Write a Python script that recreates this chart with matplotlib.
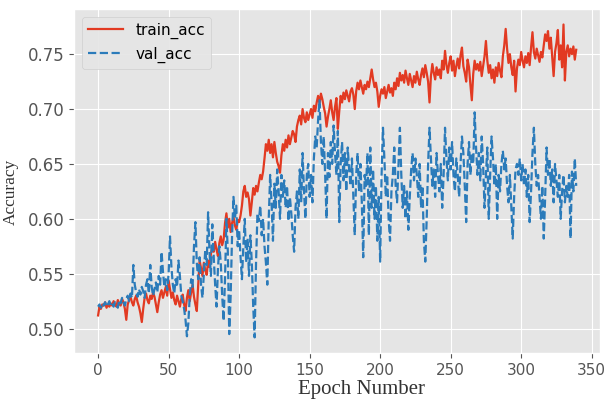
import numpy as np
import matplotlib
matplotlib.use("Agg")
import matplotlib.pyplot as plt

# per-epoch accuracy
train_acc = [
    0.512, 0.520, 0.518, 0.522, 0.521, 0.524, 0.519, 0.522, 0.520, 0.523,
    0.521, 0.525, 0.522, 0.520, 0.526, 0.523, 0.521, 0.527, 0.524, 0.518,
    0.508, 0.522, 0.526, 0.529, 0.524, 0.521, 0.527, 0.530, 0.524, 0.520,
    0.514, 0.506, 0.518, 0.528, 0.532, 0.526, 0.523, 0.530, 0.527, 0.533,
    0.529, 0.522, 0.515, 0.524, 0.531, 0.535, 0.528, 0.533, 0.538, 0.530,
    0.544, 0.536, 0.528, 0.533, 0.526, 0.522, 0.530, 0.525, 0.520, 0.527,
    0.531, 0.522, 0.516, 0.528, 0.535, 0.525, 0.533, 0.540, 0.529, 0.522,
    0.516, 0.540, 0.562, 0.555, 0.548, 0.560, 0.553, 0.549, 0.562, 0.556,
    0.568, 0.575, 0.570, 0.579, 0.572, 0.566, 0.578, 0.584, 0.576, 0.581,
    0.596, 0.605, 0.592, 0.600, 0.588, 0.596, 0.602, 0.594, 0.590, 0.599,
    0.597, 0.603, 0.612, 0.625, 0.630, 0.620, 0.624, 0.618, 0.603, 0.615,
    0.628, 0.622, 0.630, 0.625, 0.633, 0.640, 0.636, 0.643, 0.655, 0.668,
    0.662, 0.672, 0.660, 0.668, 0.656, 0.670, 0.660, 0.652, 0.648, 0.642,
    0.658, 0.668, 0.662, 0.672, 0.665, 0.676, 0.668, 0.674, 0.680, 0.677,
    0.670, 0.684, 0.690, 0.694, 0.686, 0.700, 0.692, 0.688, 0.697, 0.690,
    0.695, 0.700, 0.692, 0.703, 0.698, 0.706, 0.712, 0.705, 0.714, 0.709,
    0.702, 0.696, 0.684, 0.693, 0.700, 0.708, 0.697, 0.690, 0.702, 0.710,
    0.682, 0.698, 0.712, 0.706, 0.715, 0.709, 0.717, 0.712, 0.707, 0.716,
    0.719, 0.713, 0.700, 0.716, 0.724, 0.718, 0.726, 0.720, 0.714, 0.722,
    0.718, 0.725, 0.720, 0.728, 0.736, 0.727, 0.720, 0.724, 0.716, 0.702,
    0.712, 0.718, 0.714, 0.720, 0.710, 0.716, 0.722, 0.715, 0.719, 0.712,
    0.724, 0.718, 0.728, 0.721, 0.733, 0.726, 0.731, 0.724, 0.735, 0.728,
    0.722, 0.732, 0.726, 0.720, 0.730, 0.724, 0.734, 0.727, 0.722, 0.731,
    0.737, 0.729, 0.740, 0.733, 0.725, 0.706, 0.730, 0.741, 0.733, 0.727,
    0.738, 0.731, 0.736, 0.728, 0.744, 0.736, 0.753, 0.740, 0.733, 0.742,
    0.748, 0.735, 0.744, 0.730, 0.739, 0.746, 0.737, 0.749, 0.756, 0.739,
    0.733, 0.725, 0.745, 0.738, 0.722, 0.708, 0.732, 0.744, 0.736, 0.741,
    0.735, 0.743, 0.730, 0.739, 0.748, 0.762, 0.744, 0.733, 0.740, 0.728,
    0.736, 0.724, 0.738, 0.730, 0.742, 0.735, 0.729, 0.748, 0.758, 0.773,
    0.755, 0.742, 0.750, 0.738, 0.731, 0.744, 0.716, 0.737, 0.745, 0.740,
    0.752, 0.744, 0.738, 0.748, 0.742, 0.751, 0.740, 0.756, 0.770, 0.752,
    0.746, 0.755, 0.749, 0.743, 0.752, 0.747, 0.758, 0.768, 0.762, 0.771,
    0.755, 0.765, 0.748, 0.730, 0.752, 0.760, 0.772, 0.745, 0.758, 0.738,
    0.777, 0.726, 0.752, 0.758, 0.748, 0.755, 0.750, 0.757, 0.745, 0.754,
]

val_acc = [
    0.520, 0.522, 0.519, 0.523, 0.521, 0.524, 0.520, 0.522, 0.525, 0.521,
    0.523, 0.520, 0.524, 0.522, 0.519, 0.526, 0.523, 0.528, 0.524, 0.521,
    0.527, 0.530, 0.525, 0.532, 0.528, 0.558, 0.540, 0.533, 0.529, 0.536,
    0.531, 0.538, 0.534, 0.528, 0.540, 0.545, 0.532, 0.558, 0.538, 0.530,
    0.536, 0.542, 0.533, 0.548, 0.540, 0.570, 0.552, 0.538, 0.545, 0.535,
    0.550, 0.584, 0.556, 0.540, 0.532, 0.545, 0.538, 0.562, 0.548, 0.530,
    0.525, 0.518, 0.508, 0.493, 0.505, 0.530, 0.545, 0.538, 0.575, 0.597,
    0.560, 0.545, 0.565, 0.540, 0.528, 0.550, 0.572, 0.558, 0.606, 0.570,
    0.548, 0.595, 0.565, 0.540, 0.520, 0.555, 0.575, 0.560, 0.530, 0.507,
    0.545, 0.600, 0.570, 0.495, 0.530, 0.585, 0.620, 0.600, 0.612, 0.575,
    0.590, 0.565, 0.545, 0.575, 0.600, 0.560, 0.582, 0.548, 0.585, 0.560,
    0.520, 0.492, 0.560, 0.605, 0.598, 0.612, 0.585, 0.600, 0.575, 0.560,
    0.540, 0.600, 0.640, 0.615, 0.580, 0.632, 0.610, 0.645, 0.625, 0.600,
    0.640, 0.620, 0.635, 0.610, 0.630, 0.598, 0.620, 0.605, 0.585, 0.570,
    0.610, 0.625, 0.600, 0.645, 0.615, 0.660, 0.625, 0.600, 0.640, 0.650,
    0.620, 0.640, 0.615, 0.655, 0.675, 0.665, 0.690, 0.708, 0.670, 0.650,
    0.675, 0.640, 0.600, 0.660, 0.638, 0.670, 0.650, 0.685, 0.660, 0.640,
    0.680, 0.597, 0.650, 0.670, 0.635, 0.660, 0.625, 0.665, 0.645, 0.630,
    0.655, 0.620, 0.585, 0.640, 0.660, 0.625, 0.650, 0.615, 0.565, 0.640,
    0.630, 0.660, 0.585, 0.665, 0.610, 0.645, 0.600, 0.630, 0.580, 0.620,
    0.561, 0.640, 0.683, 0.655, 0.620, 0.640, 0.600, 0.580, 0.625, 0.640,
    0.665, 0.630, 0.615, 0.650, 0.683, 0.640, 0.610, 0.630, 0.600, 0.625,
    0.590, 0.620, 0.645, 0.660, 0.635, 0.655, 0.640, 0.620, 0.650, 0.610,
    0.630, 0.580, 0.561, 0.600, 0.650, 0.683, 0.655, 0.630, 0.645, 0.620,
    0.660, 0.640, 0.625, 0.650, 0.610, 0.640, 0.683, 0.655, 0.635, 0.665,
    0.645, 0.670, 0.640, 0.625, 0.655, 0.640, 0.620, 0.650, 0.675, 0.660,
    0.630, 0.597, 0.650, 0.670, 0.640, 0.660, 0.650, 0.697, 0.665, 0.640,
    0.660, 0.635, 0.675, 0.650, 0.610, 0.640, 0.665, 0.600, 0.640, 0.675,
    0.655, 0.630, 0.650, 0.600, 0.640, 0.625, 0.650, 0.662, 0.645, 0.655,
    0.630, 0.615, 0.640, 0.610, 0.582, 0.620, 0.645, 0.650, 0.640, 0.655,
    0.635, 0.650, 0.630, 0.645, 0.620, 0.640, 0.597, 0.625, 0.660, 0.683,
    0.650, 0.630, 0.640, 0.620, 0.600, 0.630, 0.582, 0.620, 0.665, 0.640,
    0.655, 0.630, 0.645, 0.615, 0.650, 0.635, 0.620, 0.640, 0.600, 0.625,
    0.640, 0.615, 0.630, 0.620, 0.640, 0.582, 0.643, 0.625, 0.655, 0.630,
]

epochs = np.arange(len(train_acc))

plt.style.use("ggplot")

fig = plt.figure(figsize=(6.08, 4.03), dpi=100)
ax = fig.add_axes([0.122, 0.124, 0.865, 0.854])

ax.plot(epochs, train_acc, color="#e23a22", lw=1.6, label="train_acc")
ax.plot(epochs, val_acc, color="#2b7bba", lw=1.6, ls="--", label="val_acc")

ax.set_xticks([0, 50, 100, 150, 200, 250, 300, 350])
ax.set_yticks([0.50, 0.55, 0.60, 0.65, 0.70, 0.75])
ax.tick_params(axis="x", labelsize=11, colors="#555555")
ax.tick_params(axis="y", labelsize=12, colors="#555555")

serif = ["Liberation Serif", "DejaVu Serif"]
ax.set_xlabel("Epoch Number", family=serif, fontsize=15, color="#333333")
ax.set_ylabel("Accuracy", family=serif, fontsize=12.5, color="#333333")
ax.xaxis.set_label_coords(0.546, -0.078)
ax.yaxis.set_label_coords(-0.105, 0.468)

ax.legend(loc="upper left", fontsize=11, handlelength=2.3,
          facecolor="#e5e5e5", edgecolor="#cccccc", framealpha=0.9)

fig.savefig("out.png", dpi=100)
